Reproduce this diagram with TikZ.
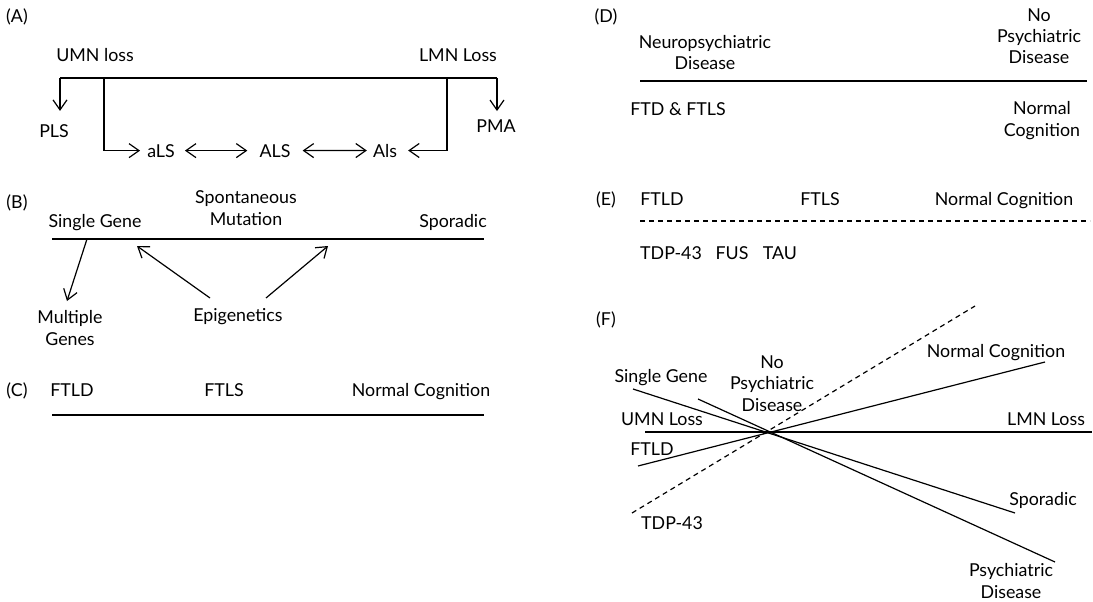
\documentclass[tikz,border=0pt]{standalone}
\usepackage{fontspec}
\setmainfont{Lato}
\usetikzlibrary{arrows.meta}
\begin{document}
\begin{tikzpicture}[x=1pt,y=-1pt,
  every node/.style={inner sep=0pt, font=\fontsize{17.8}{21.5}\selectfont},
  lbl/.style={anchor=base},
  ml/.style={align=center, anchor=base},
  ln/.style={line width=1.2pt},
  arr/.style={ln, -{Straight Barb[length=10pt,width=14pt]}},
  darr/.style={ln, {Straight Barb[length=10pt,width=14pt]}-{Straight Barb[length=10pt,width=14pt]}},
  dsh/.style={ln, dash pattern=on 5pt off 4pt},
]
\useasboundingbox (0,0) rectangle (1093,602);
% ---------- (A)
\node[lbl] (lA) at (17,23) {(A)};
\node[lbl] (umn) at (95,62) {UMN loss};
\node[lbl] (lmn) at (458,62) {LMN Loss};
\node[lbl] (pls) at (54,137) {PLS};
\node[lbl] (pma) at (496,132) {PMA};
\node[lbl] (als1) at (161,157) {aLS};
\node[lbl] (als2) at (275,157) {ALS};
\node[lbl] (als3) at (385,157) {Als};
\coordinate (a1) at (60,78);
\coordinate (a2) at (104,78);
\coordinate (a3) at (447,78);
\coordinate (a4) at (497,78);
\draw[ln] (a1) -- (a4);
\draw[arr, shorten >=13pt] (a1) -- (a1 |- pls.north);
\draw[arr, shorten >=8pt] (a4) -- (a4 |- pma.north);
\draw[arr, shorten >=7pt] (a2) |- (als1.west);
\draw[arr, shorten >=11pt] (a3) |- (als3.east);
\draw[darr, shorten <=10pt, shorten >=12pt] (als1.east) -- (als2.west);
\draw[darr, shorten <=12pt, shorten >=6pt] (als2.east) -- (als3.west);
% ---------- (B)
\node[lbl] (lB) at (17,208) {(B)};
\node[ml] (spon) at (246,225) {Spontaneous\\Mutation};
\node[lbl] (sg) at (95,227) {Single Gene};
\node[lbl] (spor) at (453,227) {Sporadic};
\node[ml] (mg) at (70,345) {Multiple\\Genes};
\node[lbl] (epi) at (238,321) {Epigenetics};
\coordinate (b1) at (52,239);
\coordinate (b2) at (484,239);
\coordinate (bsg) at (87,239);
\coordinate (bmg) at (67,301);
\coordinate (be1) at (210,298);
\coordinate (be2) at (266,298);
\coordinate (bt1) at (137,246);
\coordinate (bt2) at (328,246);
\draw[ln] (b1) -- (b2);
\draw[arr] (bsg) -- (bmg);
\draw[arr] (be1) -- (bt1);
\draw[arr] (be2) -- (bt2);
% ---------- (C)
\node[lbl] (lC) at (17,396) {(C)};
\node[lbl] (c1) at (72,396) {FTLD};
\node[lbl] (c2) at (224,396) {FTLS};
\node[lbl] (c3) at (421,396) {Normal Cognition};
\coordinate (cl) at (52,415);
\coordinate (cr) at (484,415);
\draw[ln] (cl) -- (cr);
% ---------- (D)
\node[lbl] (lD) at (606,23) {(D)};
\node[ml] (d1) at (705,70) {Neuropsychiatric\\Disease};
\node[ml] (d2) at (1039,64) {No\\Psychiatric\\Disease};
\node[lbl] (d3) at (678,115) {FTD \& FTLS};
\node[ml] (d4) at (1042,136) {Normal\\Cognition};
\coordinate (dl) at (640,81);
\coordinate (dr) at (1087,81);
\draw[ln] (dl) -- (dr);
% ---------- (E)
\node[lbl] (lE) at (606,205) {(E)};
\node[lbl] (e1) at (662,205) {FTLD};
\node[lbl] (e2) at (820,205) {FTLS};
\node[lbl] (e3) at (1004,205) {Normal Cognition};
\node[lbl] (e4) at (671,259) {TDP-43};
\node[lbl] (e5) at (732,259) {FUS};
\node[lbl] (e6) at (780,259) {TAU};
\coordinate (el) at (640,221);
\coordinate (er) at (1090,221);
\draw[dsh] (el) -- (er);
% ---------- (F)
\node[lbl] (lF) at (606,325) {(F)};
\node[lbl] (f1) at (662,425) {UMN Loss};
\node[lbl] (f2) at (1046,425) {LMN Loss};
\node[lbl] (f3) at (661,382) {Single Gene};
\node[ml] (f4) at (772,411) {No\\Psychiatric\\Disease};
\node[lbl] (f5) at (652,455) {FTLD};
\node[lbl] (f6) at (996,357) {Normal Cognition};
\node[lbl] (f7) at (672,529) {TDP-43};
\node[lbl] (f8) at (1043,505) {Sporadic};
\node[ml] (f9) at (1011,598) {Psychiatric\\Disease};
\coordinate (h1) at (645,432);
\coordinate (h2) at (1092,432);
\coordinate (s1) at (633,389);
\coordinate (s2) at (1015,513);
\coordinate (p1) at (698,399);
\coordinate (p2) at (1055,562);
\coordinate (t1) at (638,466);
\coordinate (t2) at (1045,362);
\coordinate (q1) at (632,513);
\coordinate (q2) at (975,306);
\draw[ln] (h1) -- (h2);
\draw[ln] (s1) -- (s2);
\draw[ln] (p1) -- (p2);
\draw[ln] (t1) -- (t2);
\draw[dsh] (q1) -- (q2);
\end{tikzpicture}
\end{document}
